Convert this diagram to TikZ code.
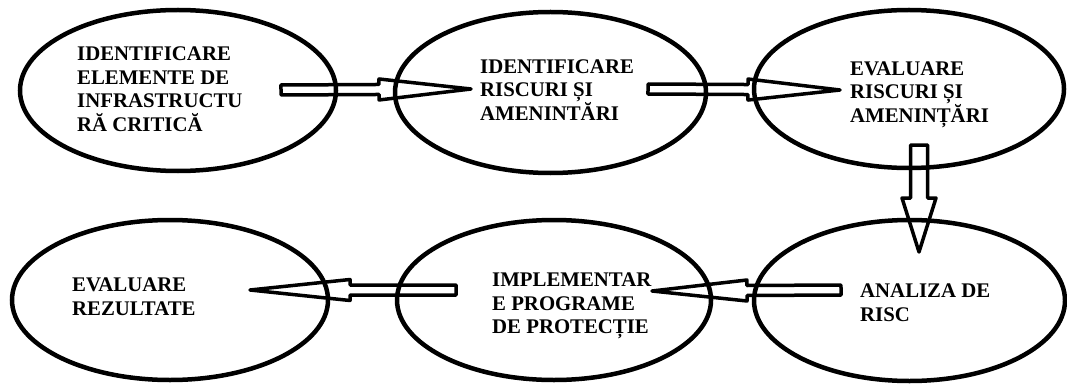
\documentclass[tikz,border=0pt]{standalone}
\usepackage{fontspec}
\setmainfont{Liberation Serif}
\usetikzlibrary{shapes.geometric,calc}

\tikzset{
  etapa/.style={draw=black,ellipse,line width=4.5pt,inner sep=0pt},
  eticheta/.style={anchor=north west,inner sep=0pt,align=left,font=\fontsize{20.8}{23.5}\selectfont\bfseries},
  sageata/.style={draw=black,line width=3.5pt,line join=round}
}

% sageata goala: de la, pana la, jumatate tija, jumatate varf, lungime varf
\newcommand{\sageatagoala}[5]{%
  \coordinate (hb) at ($(#2)!#5!(#1)$);
  \path[sageata] ($(#1)!#3!90:(#2)$) -- ($(hb)!#3!90:(#2)$) -- ($(hb)!#4!90:(#2)$) -- (#2)
    -- ($(hb)!#4!-90:(#2)$) -- ($(hb)!#3!-90:(#2)$) -- ($(#1)!#3!-90:(#2)$) -- cycle;
}

\begin{document}
\begin{tikzpicture}[x=1pt,y=-1pt]
\useasboundingbox (0,0) rectangle (1067,385);

%etape
\node[etapa,minimum width=316pt,minimum height=161pt] (e1) at (178,90.5) {};
\node[etapa,minimum width=311pt,minimum height=161pt] (e2) at (550.5,92.5) {};
\node[etapa,minimum width=310pt,minimum height=158pt] (e3) at (909,89) {};
\node[etapa,minimum width=316pt,minimum height=160pt] (e4) at (170,300) {};
\node[etapa,minimum width=314pt,minimum height=160pt] (e5) at (554,300) {};
\node[etapa,minimum width=311pt,minimum height=161pt] (e6) at (909.5,300.5) {};

%texte
\node[eticheta] (t1) at (77,47) {IDENTIFICARE\\ELEMENTE DE\\INFRASTRUCTU\\RĂ CRITICĂ};
\node[eticheta] (t2) at (480,59.5) {IDENTIFICARE\\RISCURI ȘI\\AMENINTĂRI};
\node[eticheta] (t3) at (850,61.5) {EVALUARE\\RISCURI ȘI\\AMENINȚĂRI};
\node[eticheta] (t4) at (72,278) {EVALUARE\\REZULTATE};
\node[eticheta] (t5) at (492,273) {IMPLEMENTAR\\E PROGRAME\\DE PROTECȚIE};
\node[eticheta] (t6) at (860,284) {ANALIZA DE\\RISC};

%sageti
\coordinate (a1s) at (281,90);
\coordinate (a1e) at (471,89);
\sageatagoala{a1s}{a1e}{5pt}{10.5pt}{92pt}

\coordinate (a2s) at (648,89);
\coordinate (a2e) at (840,90);
\sageatagoala{a2s}{a2e}{5pt}{10.5pt}{92pt}

\coordinate (a3s) at (919,145);
\coordinate (a3e) at (919,252);
\sageatagoala{a3s}{a3e}{8.5pt}{17pt}{54pt}

\coordinate (a4s) at (456,290);
\coordinate (a4e) at (250,290);
\sageatagoala{a4s}{a4e}{5pt}{10.5pt}{100pt}

\coordinate (a5s) at (841,290);
\coordinate (a5e) at (652,291);
\sageatagoala{a5s}{a5e}{5pt}{10.5pt}{95pt}

\end{tikzpicture}
\end{document}
